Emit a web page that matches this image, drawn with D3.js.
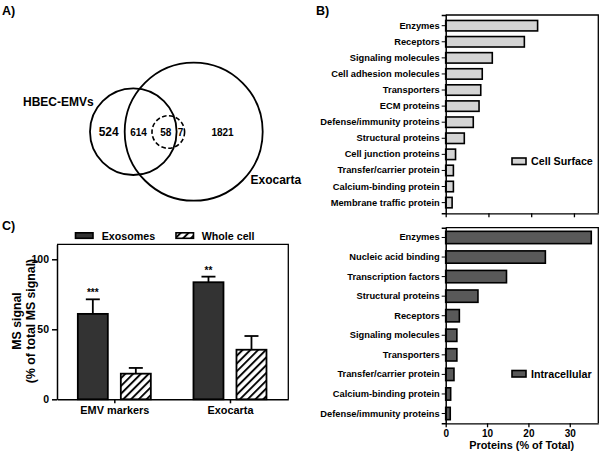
<!DOCTYPE html>
<html><head><meta charset="utf-8">
<script src="https://cdn.jsdelivr.net/npm/d3@7"></script>
<style>body{margin:0;background:#fff}svg{display:block}text{font-family:"Liberation Sans",Arial,sans-serif;font-weight:bold;fill:#000}</style>
</head><body>
<script>
// Venn counts
const vennCounts = {onlyEMV: 524, shared: 614, dashedInner: 58, dashedOuter: 7, onlyExo: 1821};
const vennSets = ["HBEC-EMVs", "Exocarta"];

// Panel B - cell surface
const surfaceCats = ["Enzymes","Receptors","Signaling molecules","Cell adhesion molecules","Transporters","ECM proteins","Defense/immunity proteins","Structural proteins","Cell junction proteins","Transfer/carrier protein","Calcium-binding protein","Membrane traffic protein"];
const surfaceVals = [21.5,18.4,10.9,8.55,8.2,7.8,6.45,4.35,2.3,1.8,1.8,1.5];
// Panel B - intracellular
const intraCats = ["Enzymes","Nucleic acid binding","Transcription factors","Structural proteins","Receptors","Signaling molecules","Transporters","Transfer/carrier protein","Calcium-binding protein","Defense/immunity proteins"];
const intraVals = [35.2,24.1,14.7,7.8,3.3,2.7,2.7,2.0,1.2,1.1];
const proteinTicks = [0,10,20,30];

// Panel C
const cGroups = ["EMV markers","Exocarta"];
const cSeries = ["Exosomes","Whole cell"];
const exosomeVals = [61,83.6];
const exosomeErr = [10.4,4.0];
const wholeVals = [18.3,35.4];
const wholeErr = [4.1,9.8];
const stars = ["***","**"];
const cTicks = [0,50,100];

const svg = d3.select("body").append("svg").attr("width",600).attr("height",452);
const defs = svg.append("defs");
const pat = defs.append("pattern").attr("id","hatch").attr("patternUnits","userSpaceOnUse")
  .attr("width",5.5).attr("height",5.5).attr("patternTransform","rotate(45)");
pat.append("rect").attr("width",5.5).attr("height",5.5).attr("fill","#fff");
pat.append("line").attr("x1",1).attr("y1",0).attr("x2",1).attr("y2",5.5).attr("stroke","#000").attr("stroke-width",1.9);

// Panel labels
svg.append("text").attr("x",2).attr("y",15).attr("font-size",12.5).text("A)");
svg.append("text").attr("x",316).attr("y",15).attr("font-size",12.5).text("B)");
svg.append("text").attr("x",2).attr("y",230).attr("font-size",12.5).text("C)");

// ---- Venn ----
const venn = svg.append("g");
venn.append("circle").attr("cx",133.3).attr("cy",131.7).attr("r",43.3).attr("fill","none").attr("stroke","#000").attr("stroke-width",1.8);
venn.append("circle").attr("cx",193.7).attr("cy",131.7).attr("r",69).attr("fill","none").attr("stroke","#000").attr("stroke-width",1.8);
venn.append("circle").attr("cx",168.3).attr("cy",132).attr("r",16.3).attr("fill","none").attr("stroke","#000").attr("stroke-width",1.6).attr("stroke-dasharray","4.5,2.5");
const vt = (x,y,s,t,a)=>venn.append("text").attr("x",x).attr("y",y).attr("font-size",s).attr("text-anchor",a||"middle").text(t);
vt(108.7,136,12,vennCounts.onlyEMV);
vt(138.5,135.5,10,vennCounts.shared);
vt(165.7,135.5,10,vennCounts.dashedInner);
vt(180.5,135.5,10,vennCounts.dashedOuter);
vt(222.5,135.5,10,vennCounts.onlyExo);
vt(23,106,12,vennSets[0],"start");
vt(250.5,184,12,vennSets[1],"start");

// ---- Panel B ----
function hbar(cats, vals, top, bottom, xmax, padO, padI, fill, legend, legY, showTickLabels){
  const x = d3.scaleLinear().domain([0,xmax]).range([445.7,598.3]);
  const y = d3.scaleBand().domain(cats).range([top,bottom]).paddingInner(padI).paddingOuter(padO);
  const g = svg.append("g");
  g.selectAll("rect.bar").data(cats).join("rect").attr("class","bar")
    .attr("x",x(0)).attr("y",d=>y(d)).attr("width",(d,i)=>x(vals[i])-x(0)).attr("height",y.bandwidth())
    .attr("fill",fill).attr("stroke","#000").attr("stroke-width",1.6);
  g.append("path").attr("d",`M${x(0)},${top}H${x.range()[1]}V${bottom}`).attr("fill","none").attr("stroke","#000").attr("stroke-width",1.3);
  const ya = g.append("g").attr("transform",`translate(${x(0)},0)`).call(d3.axisLeft(y).tickSize(4).tickPadding(2));
  ya.select(".domain").attr("stroke-width",1.5);
  ya.selectAll("text").attr("font-size",9.3).attr("font-family",null).attr("fill","#000");
  const xa = g.append("g").attr("transform",`translate(0,${bottom})`).call(d3.axisBottom(x).tickValues(proteinTicks).tickSize(4).tickSizeOuter(0).tickPadding(3));
  xa.select(".domain").attr("stroke-width",1.3);
  xa.selectAll("line").attr("stroke-width",1.3);
  xa.selectAll("text").attr("font-size",10).attr("font-family",null).attr("fill","#000");
  if(!showTickLabels) xa.selectAll("text").remove();
  g.append("rect").attr("x",512).attr("y",legY-3).attr("width",14).attr("height",6.5).attr("fill",fill).attr("stroke","#000").attr("stroke-width",1.6);
  g.append("text").attr("x",531).attr("y",legY+4).attr("font-size",10.7).text(legend);
  return x;
}
hbar(surfaceCats, surfaceVals, 15, 213.3, 35.7, 0.34, 0.35, "#d4d4d4", "Cell Surface", 161, false);
hbar(intraCats, intraVals, 227.7, 423.3, 36.9, 0.185, 0.37, "#595959", "Intracellular", 373.5, true);
svg.append("text").attr("x",521.7).attr("y",449).attr("text-anchor","middle").attr("font-size",10.9).text("Proteins (% of Total)");

// ---- Panel C ----
const yC = d3.scaleLinear().domain([0,110.7]).range([399.3,244.3]);
const xC = d3.scaleBand().domain(cGroups).range([57,288.3]);
const gc = svg.append("g");
gc.append("path").attr("d",`M57,244.3H288.3V399.3`).attr("fill","none").attr("stroke","#000").attr("stroke-width",1.3);
const barW = 30;
function cBars(vals, errs, offset, fill){
  gc.selectAll(null).data(cGroups).join("line")
    .attr("x1",d=>xC(d)+xC.bandwidth()/2+offset+barW/2).attr("x2",d=>xC(d)+xC.bandwidth()/2+offset+barW/2)
    .attr("y1",(d,i)=>yC(vals[i])).attr("y2",(d,i)=>yC(vals[i]+errs[i])).attr("stroke","#000").attr("stroke-width",1.8);
  gc.selectAll(null).data(cGroups).join("line")
    .attr("x1",d=>xC(d)+xC.bandwidth()/2+offset+barW/2-7).attr("x2",d=>xC(d)+xC.bandwidth()/2+offset+barW/2+7)
    .attr("y1",(d,i)=>yC(vals[i]+errs[i])).attr("y2",(d,i)=>yC(vals[i]+errs[i])).attr("stroke","#000").attr("stroke-width",1.8);
  gc.selectAll(null).data(cGroups).join("rect")
    .attr("x",d=>xC(d)+xC.bandwidth()/2+offset).attr("width",barW)
    .attr("y",(d,i)=>yC(vals[i])).attr("height",(d,i)=>yC(0)-yC(vals[i]))
    .attr("fill",fill).attr("stroke","#000").attr("stroke-width",1.8);
}
cBars(exosomeVals, exosomeErr, -37, "#333333");
cBars(wholeVals, wholeErr, 6, "url(#hatch)");
gc.selectAll(null).data(cGroups).join("text")
  .attr("x",d=>xC(d)+xC.bandwidth()/2-22).attr("y",(d,i)=>yC(exosomeVals[i]+exosomeErr[i])-3)
  .attr("text-anchor","middle").attr("font-size",10).text((d,i)=>stars[i]);
const yax = gc.append("g").attr("transform","translate(57,0)").call(d3.axisLeft(yC).tickValues(cTicks).tickSize(5).tickSizeOuter(0).tickPadding(3));
yax.select(".domain").attr("stroke-width",1.5);
yax.selectAll("line").attr("stroke-width",1.5);
yax.selectAll("text").attr("font-size",10.5).attr("font-family",null).attr("fill","#000");
const xax = gc.append("g").attr("transform","translate(0,399.3)").call(d3.axisBottom(xC).tickSize(4).tickSizeOuter(0).tickPadding(3));
xax.select(".domain").attr("stroke-width",1.5);
xax.selectAll("line").attr("stroke-width",1.5);
xax.selectAll("text").attr("font-size",10.9).attr("font-family",null).attr("fill","#000");
gc.append("text").attr("transform","translate(21,321) rotate(-90)").attr("text-anchor","middle").attr("font-size",12.3).text("MS signal");
gc.append("text").attr("transform","translate(35,321) rotate(-90)").attr("text-anchor","middle").attr("font-size",12.3).text("(% of total MS signal)");
// legend C
gc.append("rect").attr("x",75.5).attr("y",232.8).attr("width",17.5).attr("height",5.5).attr("fill","#333333").attr("stroke","#000").attr("stroke-width",1.6);
gc.append("text").attr("x",101.7).attr("y",239.5).attr("font-size",10.7).text(cSeries[0]);
gc.append("rect").attr("x",176).attr("y",232.8).attr("width",17.5).attr("height",5.5).attr("fill","url(#hatch)").attr("stroke","#000").attr("stroke-width",1.6);
gc.append("text").attr("x",201.7).attr("y",239.5).attr("font-size",10.7).text(cSeries[1]);
</script>
</body></html>
